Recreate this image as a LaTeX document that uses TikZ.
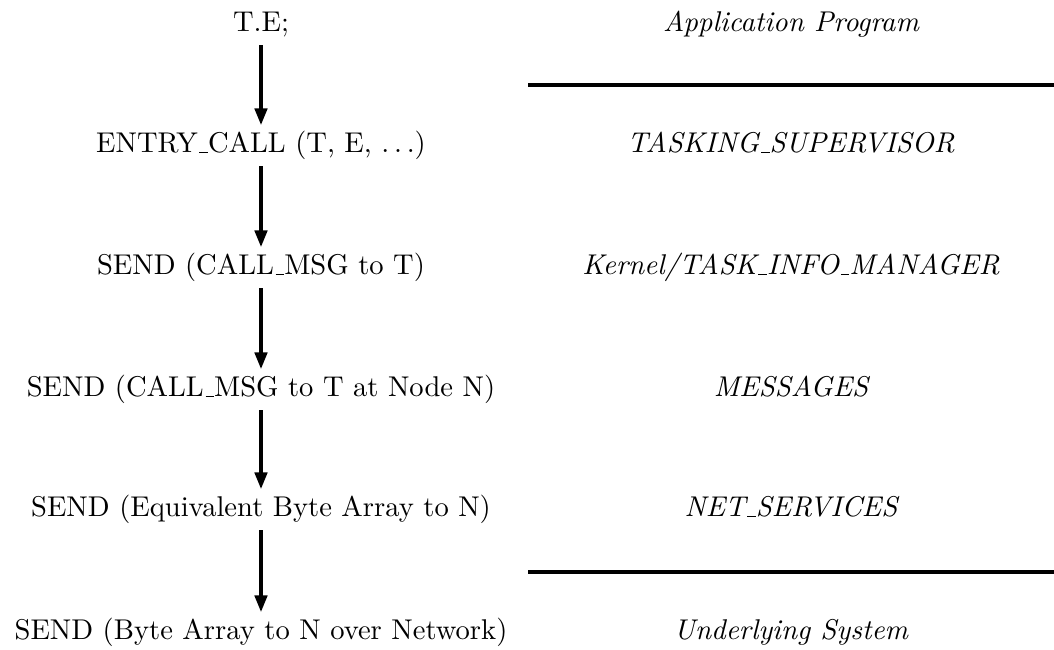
\documentclass[tikz,border=0pt]{standalone}
\usetikzlibrary{arrows.meta}
\newcommand\usc{\leavevmode\kern.06em\vbox{\hrule width.3em height 0.4pt}}
\begin{document}
\begin{tikzpicture}[x=0.35pt,y=-0.35pt,
  lbl/.style={inner sep=0pt,text height=9.4pt,text depth=4.5pt,anchor=base},
  layer/.style={lbl,font=\itshape},
  flow/.style={line width=1.6pt,-{Triangle[length=6pt,width=4.2pt]}},
  rule/.style={line width=1.4pt}]
\useasboundingbox (0,0) rectangle (1054,650);
% left column
\node[lbl] (a) at (261,32) {T.E;};
\node[lbl] (b) at (261,153) {ENTRY\usc CALL (T, E, $\ldots$)};
\node[lbl] (c) at (261,275) {SEND (CALL\usc MSG to T)};
\node[lbl] (d) at (261,397) {SEND (CALL\usc MSG to T at Node N)};
\node[lbl] (e) at (261,517) {SEND (Equivalent Byte Array to N)};
\node[lbl] (f) at (261,640) {SEND (Byte Array to N over Network)};
\draw[flow] (a.south) -- (b.north);
\draw[flow] (b.south) -- (c.north);
\draw[flow] (c.south) -- (d.north);
\draw[flow] (d.south) -- (e.north);
\draw[flow] (e.south) -- (f.north);
% right column
\node[layer] (ra) at (791,32) {Application Program};
\node[layer] (rb) at (791,153) {TASKING\usc SUPERVISOR};
\node[layer] (rc) at (791,275) {Kernel/TASK\usc INFO\usc MANAGER};
\node[layer] (rd) at (791,397) {MESSAGES};
\node[layer] (re) at (791,517) {NET\usc SERVICES};
\node[layer] (rf) at (791,640) {Underlying System};
\coordinate (r1a) at (528,85);
\coordinate (r1b) at (1054,85);
\coordinate (r2a) at (528,572);
\coordinate (r2b) at (1054,572);
\draw[rule] (r1a) -- (r1b);
\draw[rule] (r2a) -- (r2b);
\end{tikzpicture}
\end{document}
